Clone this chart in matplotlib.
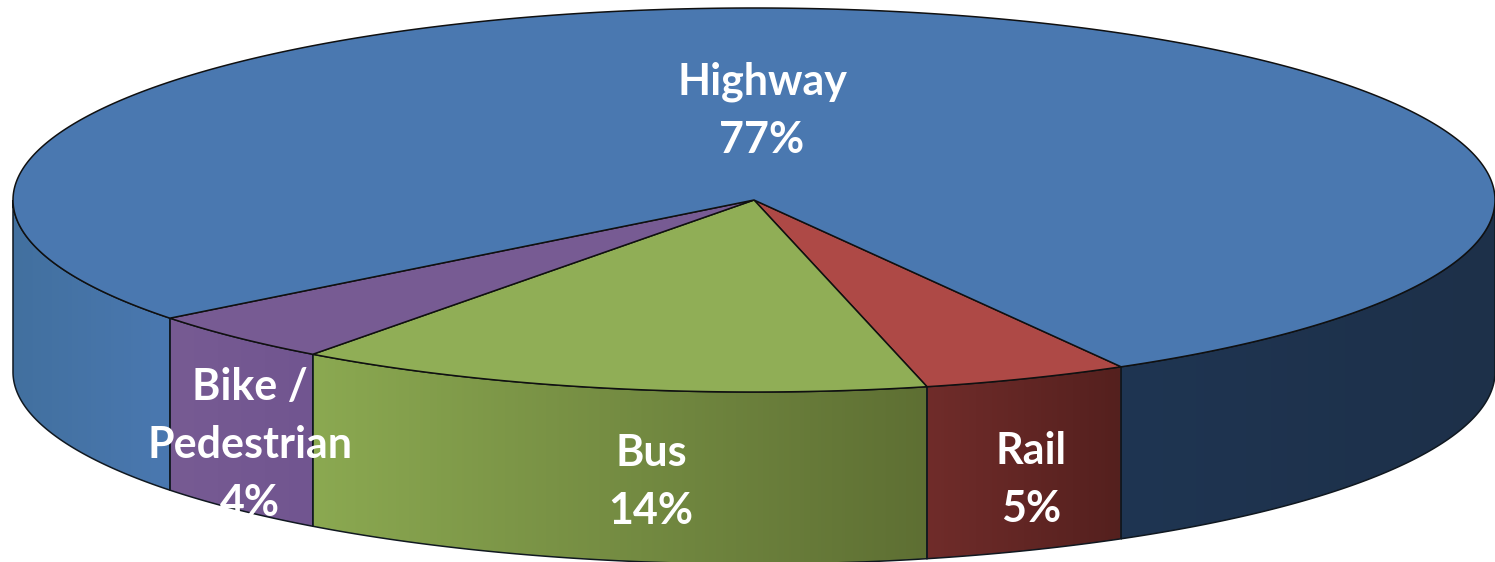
import numpy as np
import matplotlib
matplotlib.use("Agg")
import matplotlib.pyplot as plt
from matplotlib.colors import LinearSegmentedColormap
from matplotlib.patches import Polygon

# clockwise on screen, starting from the Highway / Rail edge
categories = ["Rail", "Bus", "Bike /\nPedestrian", "Highway"]
shares = [4.5, 13.9, 4.3, 77.3]
pct_labels = ["5%", "14%", "4%", "77%"]

top_colors = ["#ae4946", "#90ae56", "#775b93", "#4a78b0"]
# left and right shade of the side wall per slice
wall_colors = [("#702c2a", "#54201e"), ("#8ba951", "#5e6f33"), ("#775b93", "#715590"),
               ("#42709f", "#4a78b0")]
dark_wall = ("#1f3552", "#1d3049")

label_x = [1031, 651, 250, 762]
label_y = [480, 482, 445, 111]

W, H = 1495, 562
cx, cy, rx, ry = 754, 200, 741, 192
depth = 172
start = 60.3

fig = plt.figure(figsize=(W / 100, H / 100), dpi=100)
ax = fig.add_axes([0, 0, 1, 1])
ax.set_xlim(0, W)
ax.set_ylim(H, 0)
ax.axis("off")


def rim(t0, t1):
    t = np.radians(np.linspace(t0, t1, max(int(abs(t1 - t0) * 4), 2)))
    return cx + rx * np.cos(t), cy + ry * np.sin(t)


def draw_wall(t0, t1, colors):
    # only the front half of the disc has a visible wall
    t0, t1 = max(t0, 0), min(t1, 180)
    if t1 <= t0:
        return
    x, y = rim(t0, t1)
    pts = np.column_stack([np.r_[x, x[::-1]], np.r_[y, y[::-1] + depth]])
    poly = Polygon(pts, closed=True, facecolor="none", edgecolor="#101820", lw=1.1, zorder=3)
    ax.add_patch(poly)
    cmap = LinearSegmentedColormap.from_list("wall", colors)
    img = ax.imshow(np.linspace(0, 1, 256)[None, :], cmap=cmap, aspect="auto", zorder=2,
                    extent=[x.min(), x.max(), y.max() + depth, y.min()])
    img.set_clip_path(poly)


edges = start + np.r_[0, np.cumsum(shares)] * 3.6
for i, cat in enumerate(categories):
    t0, t1 = edges[i], edges[i + 1]
    if cat == "Highway":
        # wraps round the back, comes out again on the right in shadow
        draw_wall(t0, t1, wall_colors[i])
        draw_wall(t0 - 360, t1 - 360, dark_wall)
    else:
        draw_wall(t0, t1, wall_colors[i])

for i, cat in enumerate(categories):
    x, y = rim(edges[i], edges[i + 1])
    pts = np.column_stack([np.r_[cx, x], np.r_[cy, y]])
    ax.add_patch(Polygon(pts, closed=True, facecolor=top_colors[i], edgecolor="#101010",
                         lw=1.1, zorder=4))

ax.set_xlim(0, W)
ax.set_ylim(H, 0)

for i, cat in enumerate(categories):
    ax.text(label_x[i], label_y[i], cat + "\n" + pct_labels[i], color="white", fontsize=31,
            fontweight="bold", family="Lato", ha="center", va="center",
            linespacing=1.55, zorder=5)

fig.savefig("out.png", dpi=100)
